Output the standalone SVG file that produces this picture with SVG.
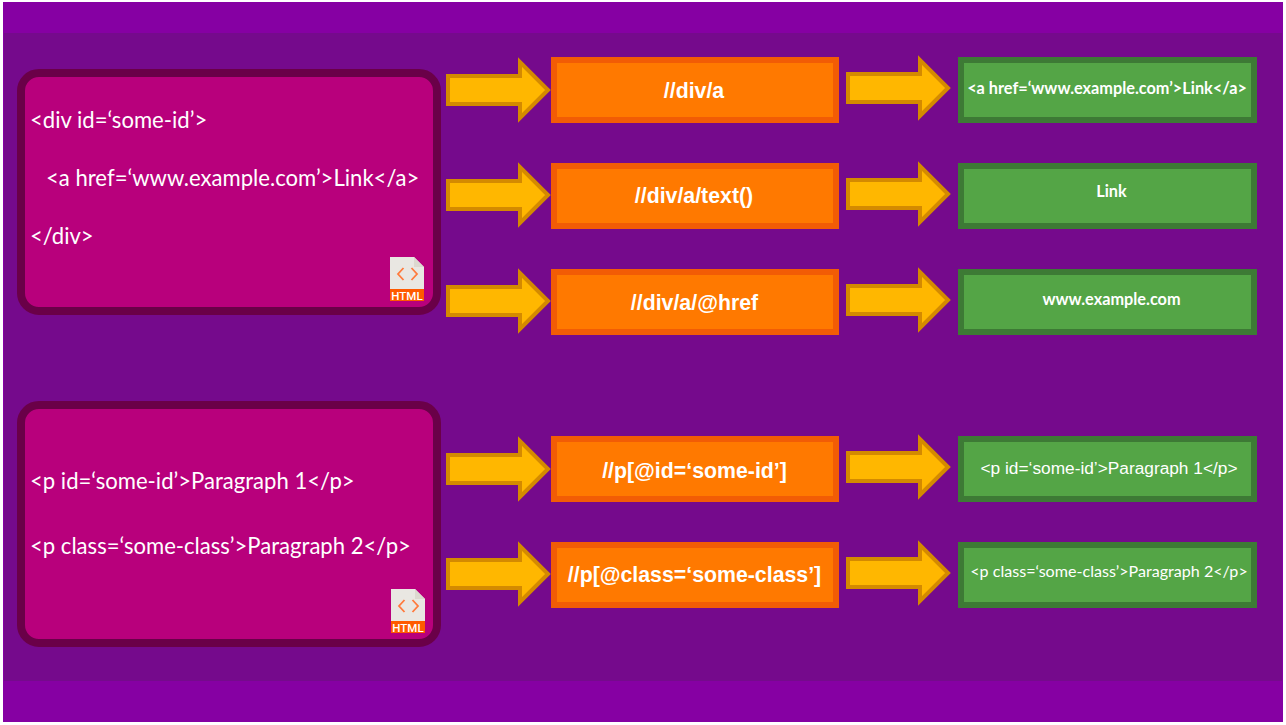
<svg xmlns="http://www.w3.org/2000/svg" width="1286" height="725" viewBox="0 0 1286 725">
<style>
.panel{fill:#b8007c;stroke:#6a0048;stroke-width:8}
.q{fill:#ff7900;stroke:#f25c05;stroke-width:6}
.r{fill:#54a546;stroke:#3d7a35;stroke-width:6}
.arrow{fill:#ffb700;stroke:#d48a00;stroke-width:4;stroke-linejoin:miter}
text{fill:#fff}
.code{font-family:"Lato","Noto Sans",sans-serif;font-size:22.1px}
.qt{font-family:"Liberation Sans",Arial,sans-serif;font-size:21.3px;font-weight:700;text-anchor:middle}
.rb{font-family:"Lato","Noto Sans",sans-serif;font-size:16.3px;font-weight:700;text-anchor:middle}
.rl{font-family:"Liberation Sans",Arial,sans-serif;font-size:17.300px;text-anchor:middle}
.rc{font-family:"Lato","Noto Sans",sans-serif;font-size:16.100px;text-anchor:middle}
.ht{font-family:"Roboto",sans-serif;font-size:11.500px;font-weight:500;text-anchor:middle}
.ch{fill:none;stroke:#ff7a3c;stroke-width:1.8}
</style>
<defs>
<path id="ar" class="arrow" d="M0 19H72V5L100 33L72 61V47H0Z"/>
<g id="icon">
<path d="M0 0H24L34 10V32H0Z" fill="#e9e7e2"/>
<path d="M24 0L34 10H24Z" fill="#dcd8cf"/>
<rect y="32" width="34" height="12" fill="#ff5a00"/>
<path class="ch" d="M13.500 11L8 17L13.500 23M21.500 11L27 17L21.500 23"/>
</g>
</defs>
<rect width="1286" height="725" fill="#fff"/>
<rect x="3" y="2" width="1280" height="720" fill="#8600a3"/>
<rect x="4" y="33" width="1278" height="648" fill="#750a8c"/>

<g id="connectors">
<use href="#ar" x="448" y="57"/>
<use href="#ar" x="448" y="162"/>
<use href="#ar" x="448" y="268"/>
<use href="#ar" x="448" y="436"/>
<use href="#ar" x="448" y="541"/>
<use href="#ar" x="848" y="55"/>
<use href="#ar" x="848" y="161"/>
<use href="#ar" x="848" y="267"/>
<use href="#ar" x="848" y="434"/>
<use href="#ar" x="848" y="540"/>
</g>

<g id="html-1">
<rect class="panel" x="21" y="73" width="416" height="238" rx="18"/>
<text class="code" x="30" y="127.500">&lt;div id=‘some-id’&gt;</text>
<text class="code" x="46" y="185.500">&lt;a href=‘www.example.com’&gt;Link&lt;/a&gt;</text>
<text class="code" x="30" y="243.500">&lt;/div&gt;</text>
<use href="#icon" x="390" y="257"/>
<text class="ht" x="407" y="299.500">HTML</text>
</g>
<g id="html-2">
<rect class="panel" x="21" y="405" width="416" height="238" rx="18"/>
<text class="code" x="30" y="488.500">&lt;p id=‘some-id’&gt;Paragraph 1&lt;/p&gt;</text>
<text class="code" x="30" y="553.500">&lt;p class=‘some-class’&gt;Paragraph 2&lt;/p&gt;</text>
<use href="#icon" x="391" y="589"/>
<text class="ht" x="408" y="631.500">HTML</text>
</g>

<g id="query-1"><rect class="q" x="554" y="60" width="282" height="60"/><text class="qt" x="694" y="98">//div/a</text></g>
<g id="query-2"><rect class="q" x="554" y="166" width="282" height="60"/><text class="qt" x="694" y="203">//div/a/text()</text></g>
<g id="query-3"><rect class="q" x="554" y="272" width="282" height="60"/><text class="qt" x="694.500" y="310">//div/a/@href</text></g>
<g id="query-4"><rect class="q" x="554" y="439" width="282" height="60"/><text class="qt" x="694.500" y="478">//p[@id=‘some-id’]</text></g>
<g id="query-5"><rect class="q" x="554" y="545" width="282" height="60"/><text class="qt" x="694.500" y="582">//p[@class=‘some-class’]</text></g>

<g id="result-1"><rect class="r" x="961" y="60" width="293" height="60"/><text class="rb" x="1107" y="94">&lt;a href=‘www.example.com’&gt;Link&lt;/a&gt;</text></g>
<g id="result-2"><rect class="r" x="961" y="166" width="293" height="60"/><text class="rb" x="1111.500" y="197">Link</text></g>
<g id="result-3"><rect class="r" x="961" y="272" width="293" height="60"/><text class="rb" x="1111.500" y="305">www.example.com</text></g>
<g id="result-4"><rect class="r" x="961" y="439" width="293" height="60"/><text class="rl" x="1109" y="474">&lt;p id=‘some-id’&gt;Paragraph 1&lt;/p&gt;</text></g>
<g id="result-5"><rect class="r" x="961" y="545" width="293" height="60"/><text class="rc" x="1109" y="577">&lt;p class=‘some-class’&gt;Paragraph 2&lt;/p&gt;</text></g>
</svg>
